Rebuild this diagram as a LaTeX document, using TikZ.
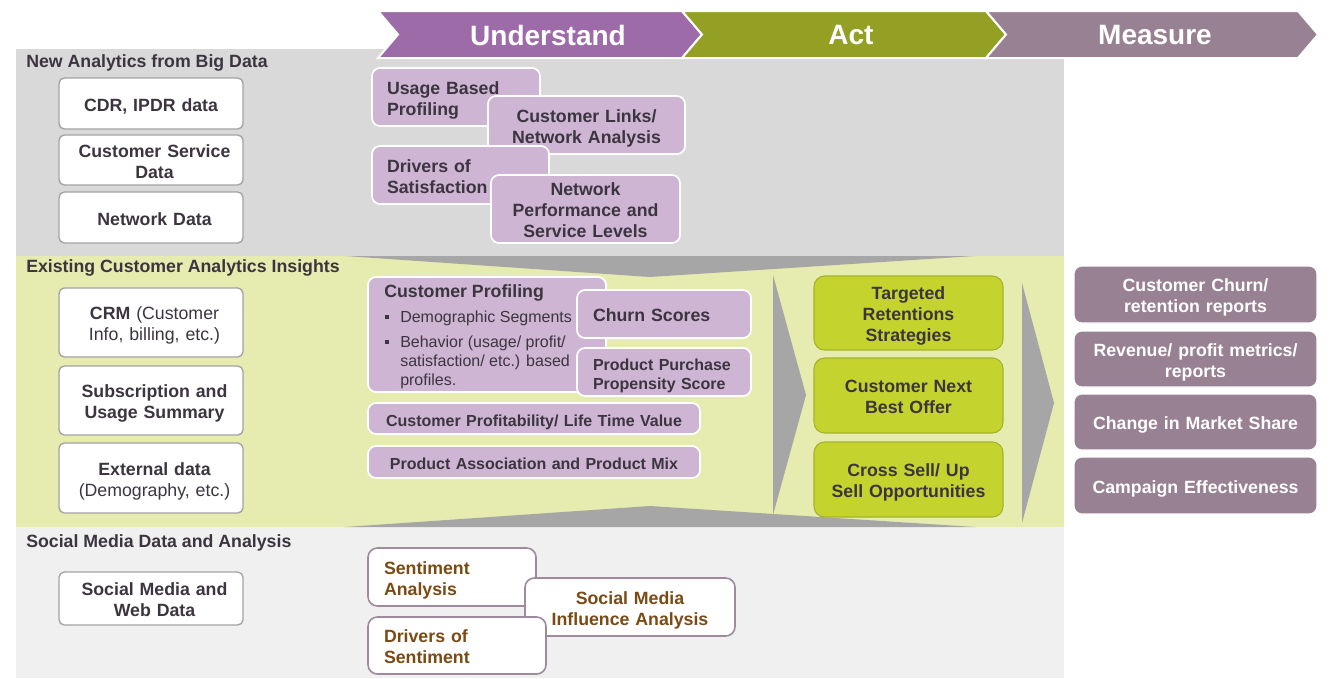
\documentclass[tikz,border=0pt]{standalone}
\usepackage{fontspec}
\setmainfont{Liberation Sans}
\definecolor{bgtop}{HTML}{D9D9D9}
\definecolor{bggreen}{HTML}{E6EBAF}
\definecolor{bgbot}{HTML}{F0F0F0}
\definecolor{wedge}{HTML}{A6A6A6}
\definecolor{cund}{HTML}{9D6BA7}
\definecolor{cact}{HTML}{93A024}
\definecolor{cmea}{HTML}{978193}
\definecolor{lpur}{HTML}{CDB5D3}
\definecolor{txt}{HTML}{3C3540}
\definecolor{gfill}{HTML}{C4D32E}
\definecolor{gline}{HTML}{A5B32A}
\definecolor{mfill}{HTML}{978192}
\definecolor{sline}{HTML}{9E8A9C}
\definecolor{brn}{HTML}{7B4A12}
\definecolor{lline}{HTML}{A3A3A3}
\newcommand\fsA{\fontsize{13.3}{15.8}\selectfont}
\newcommand\fsB{\fontsize{12}{14.4}\selectfont}
\begin{document}
\begin{tikzpicture}[x=0.75pt,y=-0.75pt,
  sz/.style 2 args={minimum width=#1*0.75pt, minimum height=#2*0.75pt},
  stA/.style={execute at begin node={\rule{0pt}{14.5pt}}, execute at end node={\rule[-3pt]{0pt}{3pt}}},
  stAs/.style={execute at begin node={\advance\leftskip by 5.25pt\rule{0pt}{14.5pt}}, execute at end node={\rule[-3pt]{0pt}{3pt}}},
  stB/.style={execute at begin node={\rule{0pt}{12.8pt}}, execute at end node={\rule[-3pt]{0pt}{3pt}}},
  hdr/.style={draw=white, line width=1.5pt, line join=miter},
  hdrtext/.style={text=white, font=\fontsize{21}{25}\selectfont\bfseries, inner sep=0pt},
  sec/.style={text=txt, font=\fsA\bfseries, inner sep=0pt, anchor=west},
  lbox/.style={draw=lline, fill=white, line width=1pt, rounded corners=4pt, text=txt,
    font=\fsA\bfseries, align=center, inner sep=0pt, text width=138pt},
  pbox/.style={draw=white, fill=lpur, line width=1.3pt, rounded corners=6pt, text=txt,
    font=\fsA\bfseries, align=center, inner sep=0pt, stA},
  gbox/.style={draw=gline, fill=gfill, line width=0.8pt, rounded corners=8pt, text=txt,
    font=\fsA\bfseries, align=center, inner sep=0pt, text width=141.75pt, stA},
  mbox/.style={draw=white, fill=mfill, line width=0.8pt, rounded corners=6pt, text=white,
    font=\fsA\bfseries, align=center, inner sep=0pt, text width=182.25pt, stA},
  sbox/.style={draw=sline, fill=white, line width=1.2pt, rounded corners=7pt, text=brn,
    font=\fsA\bfseries, align=center, inner sep=0pt, stA},
  bul/.style={text=txt, font=\fsB, inner sep=0pt, anchor=base west}
]
\useasboundingbox (0,0) rectangle (1333,678);
% background bands
\fill[bgtop] (16,49) rectangle (1064,256);
\fill[bggreen] (16,256) rectangle (1064,527);
\fill[bgbot] (16,527) rectangle (1064,678);
% gray funnel wedges
\fill[wedge] (345,256) -- (975,256) -- (650,277) -- cycle;
\fill[wedge] (345,527) -- (650,506) -- (975,527) -- cycle;
\fill[wedge] (773,275) -- (806,395) -- (773,515) -- cycle;
\fill[wedge] (1022,283) -- (1054,403) -- (1022,523) -- cycle;
% header chevrons
\draw[hdr, fill=cund] (378,11) -- (682,11) -- (702,34.5) -- (682,58) -- (378,58) -- (398,34.5) -- cycle;
\draw[hdr, fill=cact] (682,11) -- (986,11) -- (1006,34.5) -- (986,58) -- (682,58) -- (702,34.5) -- cycle;
\draw[hdr, fill=cmea] (986,11) -- (1298,11) -- (1318,34.5) -- (1298,58) -- (986,58) -- (1006,34.5) -- cycle;
\node[hdrtext] (hu) at (548,35.5) {Understand};
\node[hdrtext] (ha) at (851,35.5) {Act};
\node[hdrtext] (hm) at (1155,35.5) {Measure};
% section labels
\node[sec] (s1) at (26,62.5) {New Analytics from Big Data};
\node[sec] (s2) at (26,267.5) {Existing Customer Analytics Insights};
\node[sec] (s3) at (26,542.5) {Social Media Data and Analysis};
% left data boxes
\node[lbox, stA, sz={184}{51}] (cdr) at (151,103.5) {CDR, IPDR data};
\node[lbox, stAs, sz={184}{50}] (csd) at (151,160) {Customer Service\\Data};
\node[lbox, stAs, sz={184}{51}] (ntd) at (151,217.5) {Network Data};
\node[lbox, stAs, sz={184}{69}] (crm) at (151,322.5) {CRM \mdseries(Customer\\\mdseries Info, billing, etc.)};
\node[lbox, stAs, sz={184}{69}] (sub) at (151,400.5) {Subscription and\\Usage Summary};
\node[lbox, stAs, sz={184}{70}] (ext) at (151,478) {External data\\\mdseries(Demography, etc.)};
\node[lbox, stAs, sz={184}{53}] (smw) at (151,598.5) {Social Media and\\Web Data};
% understand: big data analytics
\node[pbox, minimum height=43.5pt, text width=103.5pt, inner xsep=11.25pt, align=left] (ubp) at (456,97) {Usage Based\\Profiling};
\node[pbox, sz={197}{58}, text width=147.75pt] (cln) at (586.5,125) {Customer Links/\\Network Analysis};
\node[pbox, minimum height=43.5pt, text width=110.25pt, inner xsep=11.25pt, align=left] (dos) at (460.5,175) {Drivers of\\Satisfaction};
\node[pbox, sz={189}{68}, text width=141.75pt] (nps) at (585.5,209) {Network\\Performance and\\Service Levels};
% understand: existing insights
\node[pbox, sz={238}{115}] (cpr) at (487,334.5) {};
\node[text=txt, font=\fsA\bfseries, inner sep=0pt, anchor=base west] (cpt) at (384,297.3) {Customer Profiling};
\node[bul] (bq1) at (385,322.7) {\rule[2.8pt]{3pt}{3pt}};
\node[bul] (bq2) at (385,347.3) {\rule[2.8pt]{3pt}{3pt}};
\node[bul] (cb1) at (400,322.7) {Demographic Segments};
\node[bul] (cb2) at (400,347.3) {Behavior (usage/ profit/};
\node[bul] (cb3) at (400,366.7) {satisfaction/ etc.) based};
\node[bul] (cb4) at (400,385.7) {profiles.};
\node[pbox, minimum height=36pt, text width=106.5pt, inner xsep=12pt, align=left] (chs) at (664,314) {Churn Scores};
\node[pbox, minimum height=36pt, text width=106.5pt, inner xsep=12pt, align=left, font=\fsB\bfseries, stB] (ppp) at (664,372) {Product Purchase\\Propensity Score};
\node[pbox, sz={332}{31}, text width=249pt, font=\fsB\bfseries, stB] (cpl) at (534,418.5) {Customer Profitability/ Life Time Value};
\node[pbox, sz={332}{32}, text width=249pt, font=\fsB\bfseries, stB] (pam) at (534,462) {Product Association and Product Mix};
% act
\node[gbox, sz={189}{74}] (trs) at (908.5,313) {Targeted\\Retentions\\Strategies};
\node[gbox, sz={189}{75}] (cnb) at (908.5,395.5) {Customer Next\\Best Offer};
\node[gbox, sz={189}{75}] (csu) at (908.5,479.5) {Cross Sell/ Up\\Sell Opportunities};
% measure
\node[mbox, sz={243}{57}] (ccr) at (1195.5,294.5) {Customer Churn/\\retention reports};
\node[mbox, sz={243}{56}] (rpm) at (1195.5,359) {Revenue/ profit metrics/\\reports};
\node[mbox, sz={243}{56}] (cms) at (1195.5,422) {Change in Market Share};
\node[mbox, sz={243}{57}] (cef) at (1195.5,485.5) {Campaign Effectiveness};
% social media analysis
\node[sbox, minimum height=43.5pt, text width=102pt, inner xsep=12pt, align=left] (sen) at (452,577) {Sentiment\\Analysis};
\node[sbox, sz={210}{58}, text width=157.5pt] (smi) at (630,607) {Social Media\\Influence Analysis};
\node[sbox, minimum height=42.75pt, text width=109.5pt, inner xsep=12pt, align=left] (dsn) at (457,645.5) {Drivers of\\Sentiment};
\end{tikzpicture}
\end{document}
